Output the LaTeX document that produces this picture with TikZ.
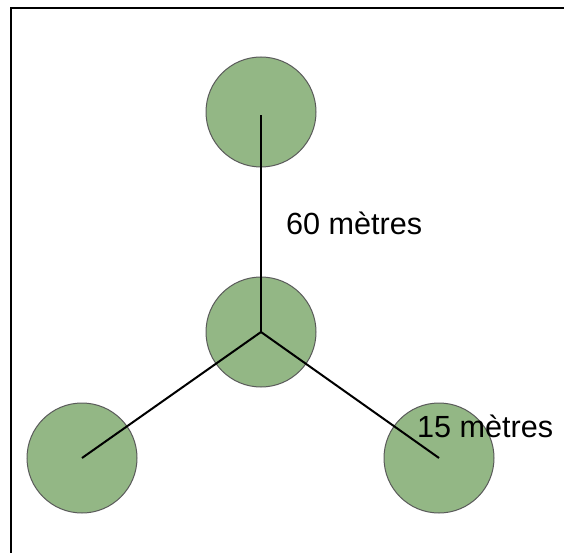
\documentclass[tikz,border=0pt]{standalone}
\usepackage{fontspec}
\setmainfont{Liberation Sans}
\definecolor{treegreen}{HTML}{93B785}
\definecolor{treeedge}{HTML}{5A5A5A}
\begin{document}
\begin{tikzpicture}[x=1pt,y=-1pt,
  tree/.style={circle,fill=treegreen,draw=treeedge,line width=1pt,minimum size=110pt,inner sep=0pt},
  link/.style={draw=black,line width=2pt},
  label/.style={font=\fontsize{30.6}{36}\selectfont,inner sep=0pt,anchor=base west}]
\useasboundingbox (0,0) rectangle (564,553);
\draw[line width=2pt] (11,553) -- (11,8) -- (564,8);
\node[tree] (top) at (261,112) {};
\node[tree] (mid) at (261,332) {};
\node[tree] (bl) at (82,458) {};
\node[tree] (br) at (439,458) {};
\coordinate (topend) at (261,115);
\draw[link] (mid.center) -- (topend);
\draw[link] (mid.center) -- (bl.center);
\draw[link] (mid.center) -- (br.center);
\node[label] (l60) at (286,234) {60 mètres};
\node[label] (l15) at (417,437) {15 mètres};
\end{tikzpicture}
\end{document}
